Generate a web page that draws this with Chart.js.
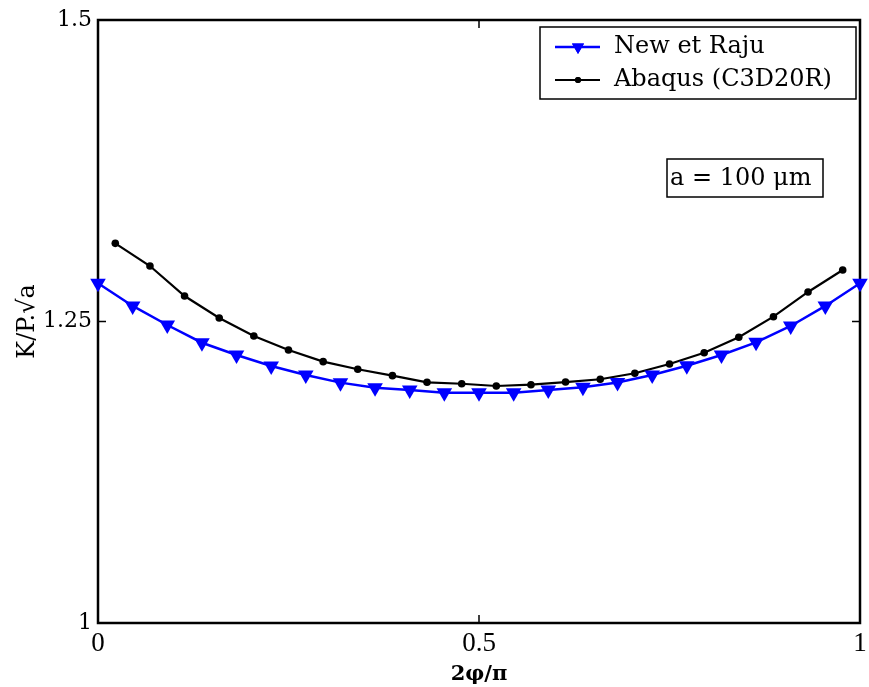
<!DOCTYPE html>
<html>
<head>
<meta charset="utf-8">
<script src="https://cdn.jsdelivr.net/npm/chart.js@4"></script>
<style>
html,body{margin:0;padding:0;background:#fff;}
#wrap{width:869px;height:687px;}
</style>
</head>
<body>
<div id="wrap"><canvas id="c" width="869" height="687"></canvas></div>
<script>
const xNewRaju = [0,0.0455,0.0909,0.1364,0.1818,0.2273,0.2727,0.3182,0.3636,0.4091,0.4545,0.5,0.5455,0.5909,0.6364,0.6818,0.7273,0.7727,0.8182,0.8636,0.9091,0.9545,1];
const yNewRaju = [1.2817,1.2629,1.2471,1.2324,1.2222,1.2131,1.2056,1.1993,1.1951,1.1932,1.1910,1.1910,1.1910,1.1932,1.1954,1.1995,1.2056,1.2133,1.2222,1.2327,1.2463,1.2629,1.2817];
const xAbaqus = [0.0227,0.0682,0.1136,0.1591,0.2045,0.25,0.2955,0.3409,0.3864,0.4318,0.4773,0.5227,0.5682,0.6136,0.6591,0.7045,0.75,0.7955,0.8409,0.8864,0.9318,0.9773];
const yAbaqus = [1.3148,1.2960,1.2711,1.2529,1.2380,1.2264,1.2167,1.2104,1.2051,1.1996,1.1984,1.1965,1.1976,1.1998,1.2021,1.2071,1.2148,1.2241,1.2369,1.2540,1.2745,1.2927];
const seriesLabels = ["New et Raju", "Abaqus (C3D20R)"];
const xTicks = [0, 0.5, 1];
const yTicks = [1, 1.25, 1.5];
const xTitle = "2φ/π";
const yTitle = "K/P.√a";
const annotationText = "a = 100 μm";

const toPts = (xs, ys) => xs.map((x, i) => ({x: x, y: ys[i]}));

const framePlugin = {
  id: 'frame',
  beforeDatasetsDraw(chart) {
    const {ctx, chartArea: a, scales} = chart;
    ctx.save();
    ctx.strokeStyle = '#000';
    ctx.lineWidth = 2.5;
    ctx.strokeRect(a.left, a.top, a.right - a.left, a.bottom - a.top);
    ctx.lineWidth = 1.5;
    const tl = 8;
    xTicks.forEach(v => {
      const px = scales.x.getPixelForValue(v);
      ctx.beginPath();
      ctx.moveTo(px, a.bottom); ctx.lineTo(px, a.bottom - tl);
      ctx.moveTo(px, a.top); ctx.lineTo(px, a.top + tl);
      ctx.stroke();
    });
    yTicks.forEach(v => {
      const py = scales.y.getPixelForValue(v);
      ctx.beginPath();
      ctx.moveTo(a.left, py); ctx.lineTo(a.left + tl, py);
      ctx.moveTo(a.right, py); ctx.lineTo(a.right - tl, py);
      ctx.stroke();
    });
    ctx.restore();
  },
  afterDraw(chart) {
    const {ctx} = chart;
    const ds = chart.data.datasets;
    ctx.save();
    // legend box
    const lx = 540, ly = 27, lw = 316, lh = 72;
    ctx.fillStyle = '#fff';
    ctx.fillRect(lx, ly, lw, lh);
    ctx.strokeStyle = '#000';
    ctx.lineWidth = 1.5;
    ctx.strokeRect(lx, ly, lw, lh);
    const rows = [ly + 20, ly + 53];
    ctx.font = '24px "DejaVu Serif"';
    ctx.textBaseline = 'middle';
    ctx.textAlign = 'left';
    ds.forEach((d, i) => {
      const y = rows[i];
      ctx.strokeStyle = d.borderColor;
      ctx.lineWidth = d.borderWidth;
      ctx.beginPath();
      ctx.moveTo(555, y); ctx.lineTo(600, y);
      ctx.stroke();
      ctx.fillStyle = d.pointBackgroundColor;
      Chart.helpers.drawPoint(ctx, {pointStyle: d.pointStyle, rotation: d.rotation || 0, radius: i === 0 ? 7 : 3, borderWidth: 0}, 578, y);
      ctx.fill();
      ctx.fillStyle = '#000';
      ctx.fillText(d.label, 614, y);
    });
    // annotation box
    const ax = 667, ay = 159, aw = 156, ah = 38;
    ctx.fillStyle = '#fff';
    ctx.fillRect(ax, ay, aw, ah);
    ctx.strokeStyle = '#000';
    ctx.lineWidth = 1.5;
    ctx.strokeRect(ax, ay, aw, ah);
    ctx.fillStyle = '#000';
    ctx.font = '24px "DejaVu Serif"';
    ctx.fillText(annotationText, ax + 3, ay + ah / 2 + 1);
    ctx.restore();
  }
};

new Chart(document.getElementById('c'), {
  type: 'line',
  data: {
    datasets: [
      {
        label: seriesLabels[0],
        data: toPts(xNewRaju, yNewRaju),
        borderColor: '#0000ff',
        backgroundColor: '#0000ff',
        pointBackgroundColor: '#0000ff',
        pointBorderColor: '#0000ff',
        borderWidth: 2.5,
        pointStyle: 'triangle',
        rotation: 180,
        pointRadius: 9,
        pointBorderWidth: 0,
        tension: 0,
        clip: false
      },
      {
        label: seriesLabels[1],
        data: toPts(xAbaqus, yAbaqus),
        borderColor: '#000000',
        backgroundColor: '#000000',
        pointBackgroundColor: '#000000',
        pointBorderColor: '#000000',
        borderWidth: 2.2,
        pointStyle: 'circle',
        pointRadius: 3.8,
        pointBorderWidth: 0,
        tension: 0,
        clip: false
      }
    ]
  },
  options: {
    responsive: false,
    animation: false,
    devicePixelRatio: 1,
    layout: {padding: {left: 0, right: 7, top: 20, bottom: 0}},
    plugins: {legend: {display: false}, tooltip: {enabled: false}},
    scales: {
      x: {
        type: 'linear', min: 0, max: 1,
        afterBuildTicks: s => { s.ticks = xTicks.map(v => ({value: v})); },
        afterFit: s => { s.height = 64; s.paddingLeft = 0; s.paddingRight = 0; },
        grid: {display: false, drawTicks: false},
        border: {display: false},
        ticks: {color: '#000', font: {family: 'Liberation Serif', size: 27}, padding: 5, maxRotation: 0, callback: v => String(v)},
        title: {display: true, text: xTitle, color: '#000', font: {family: 'DejaVu Serif', size: 21, weight: 'bold'}, padding: {top: 0, bottom: 0}}
      },
      y: {
        type: 'linear', min: 1, max: 1.5,
        afterBuildTicks: s => { s.ticks = yTicks.map(v => ({value: v})); },
        afterFit: s => { s.width = 98; s.paddingTop = 0; s.paddingBottom = 0; },
        grid: {display: false, drawTicks: false},
        border: {display: false},
        ticks: {color: '#000', font: {family: 'DejaVu Serif', size: 22}, padding: 6, callback: v => String(v)},
        title: {display: true, text: yTitle, color: '#000', font: {family: 'DejaVu Serif', size: 24}, padding: {top: 13, bottom: 0}}
      }
    }
  },
  plugins: [framePlugin]
});
</script>
</body>
</html>
